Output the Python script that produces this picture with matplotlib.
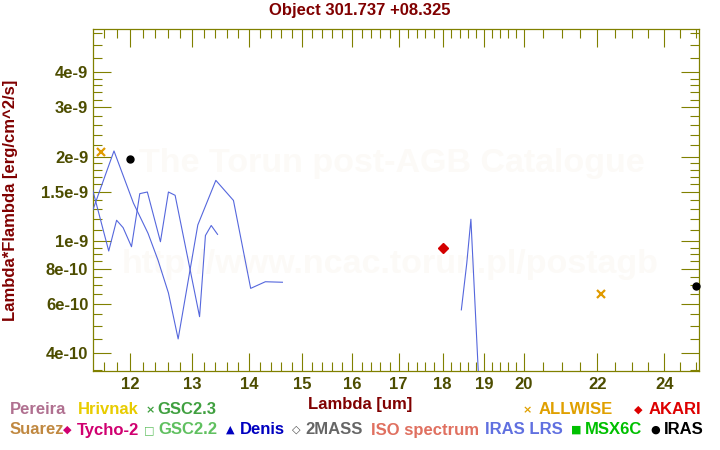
import matplotlib
matplotlib.use("Agg")
import matplotlib.pyplot as plt
import numpy as np
from matplotlib.ticker import FixedLocator, NullFormatter

# IRAS LRS spectrum pieces (um, erg/cm^2/s)
lrs_a_wl = [11.43, 11.75, 12.05, 12.28, 12.44, 12.61, 12.77, 13.10, 13.41, 13.72, 14.03, 14.30, 14.62]
lrs_a_fl = [1.29e-9, 2.10e-9, 1.37e-9, 1.07e-9, 8.59e-10, 6.56e-10, 4.50e-10, 1.145e-9, 1.65e-9,
            1.40e-9, 6.81e-10, 7.19e-10, 7.16e-10]
lrs_b_wl = [11.43, 11.67, 11.79, 11.89, 12.02, 12.15, 12.27, 12.48, 12.61, 12.72, 13.13, 13.23, 13.33, 13.44]
lrs_b_fl = [1.525e-9, 9.25e-10, 1.19e-9, 1.12e-9, 9.58e-10, 1.48e-9, 1.50e-9, 9.98e-10, 1.50e-9,
            1.46e-9, 5.40e-10, 1.05e-9, 1.14e-9, 1.06e-9]
lrs_c_wl = [18.44, 18.57, 18.67, 18.85, 18.90]
lrs_c_fl = [5.71e-10, 8.36e-10, 1.20e-9, 3.44e-10, 3.0e-10]

allwise_wl = [11.56, 22.09]
allwise_fl = [2.09e-9, 6.49e-10]
iras_wl = [12.0, 25.0]
iras_fl = [1.97e-9, 6.93e-10]
akari_wl = [18.0]
akari_fl = [9.45e-10]

x_major = [12, 13, 14, 15, 16, 17, 18, 19, 20, 22, 24]
y_major = [4e-9, 3e-9, 2e-9, 1.5e-9, 1e-9, 8e-10, 6e-10, 4e-10]
y_major_labels = ["4e-9", "3e-9", "2e-9", "1.5e-9", "1e-9", "8e-10", "6e-10", "4e-10"]
y_minor = [5.5e-9, 5.0e-9, 4.5e-9, 3.8e-9, 3.6e-9, 3.4e-9, 3.2e-9, 2.8e-9, 2.6e-9, 2.4e-9, 2.2e-9,
           1.9e-9, 1.8e-9, 1.7e-9, 1.6e-9, 1.4e-9, 1.3e-9, 1.2e-9, 1.1e-9, 9.5e-10, 9.0e-10, 8.5e-10,
           7.5e-10, 7.0e-10, 6.5e-10, 5.5e-10, 5.0e-10, 4.5e-10, 3.5e-10]

legend_row1 = [
    (10, "Pereira", "#b07090"),
    (78, "Hrivnak", "#e8cc00"),
    (146, "\u00d7", "#40a040"), (157, "GSC2.3", "#40a040"),
    (523, "\u00d7", "#e0a000"), (539, "ALLWISE", "#e0a000"),
    (634, "\u25c6", "#dd0000"), (649, "AKARI", "#dd0000"),
]
legend_row2 = [
    (10, "Suarez", "#c08840"),
    (63, "\u25c6", "#d00070"), (77, "Tycho-2", "#d00070"),
    (144, "\u25a1", "#60c060"), (158, "GSC2.2", "#60c060"),
    (226, "\u25b2", "#0000c0"), (240, "Denis", "#0000c0"),
    (292, "\u25c7", "#505050"), (305, "2MASS", "#666666"),
    (371, "ISO spectrum", "#e07060"),
    (485, "IRAS LRS", "#6070e0"),
    (571, "\u25a0", "#00c000"), (585, "MSX6C", "#00c000"),
    (650, "\u25cf", "#000000"), (664, "IRAS", "#000000"),
]

OLIVE = "#808000"
TICKTXT = "#4d4d00"
DARKRED = "#800000"
LINEC = "#5567dd"

plt.rcParams["font.family"] = ["Liberation Sans", "DejaVu Sans"]
plt.rcParams["font.weight"] = "bold"
plt.rcParams["font.size"] = 12

fig = plt.figure(figsize=(7.2, 4.5), dpi=100)
ax = fig.add_axes([92.7 / 720, 1 - 371 / 450, (699 - 92.7) / 720, (371 - 29.3) / 450])

ax.set_xscale("log")
ax.set_yscale("log")
ax.set_xlim(11.43, 25.1)
ax.set_ylim(3.46e-10, 5.69e-9)

for wl, fl in ((lrs_a_wl, lrs_a_fl), (lrs_b_wl, lrs_b_fl), (lrs_c_wl, lrs_c_fl)):
    ax.plot(wl, fl, color=LINEC, lw=0.8, zorder=3)

ax.plot(allwise_wl, allwise_fl, "x", color="#e09a00", ms=5.5, mew=1.6, zorder=4)
ax.plot(iras_wl, iras_fl, "o", color="black", ms=5, zorder=4, clip_on=False)
ax.plot(akari_wl, akari_fl, "D", color="#d40000", ms=5, zorder=4)

# faint watermark
ax.text(0.494, 0.606, "The Torun post-AGB Catalogue", transform=ax.transAxes, ha="center",
        va="center", fontsize=24.5, color="#fcfaf7", zorder=1)
ax.text(0.49, 0.313, "http://www.ncac.torun.pl/postagb", transform=ax.transAxes, ha="center",
        va="center", fontsize=24.5, color="#fcfaf7", zorder=1)

ax.xaxis.set_major_locator(FixedLocator(x_major))
ax.set_xticklabels([str(v) for v in x_major])
x_minor = [v for v in np.round(np.arange(11.6, 20.0, 0.2), 1) if abs(v - round(v)) > 1e-6]
x_minor += [20.5, 21, 21.5, 22.5, 23, 23.5, 24.5, 25]
ax.xaxis.set_minor_locator(FixedLocator(x_minor))
ax.xaxis.set_minor_formatter(NullFormatter())

ax.yaxis.set_major_locator(FixedLocator(y_major))
ax.set_yticklabels(y_major_labels)
ax.yaxis.set_minor_locator(FixedLocator(y_minor))
ax.yaxis.set_minor_formatter(NullFormatter())

ax.tick_params(which="both", direction="in", top=True, right=True, color=OLIVE,
               labelcolor=TICKTXT, width=0.8)
ax.tick_params(which="major", length=13)
ax.tick_params(which="minor", length=6.7)
ax.tick_params(axis="x", pad=4)
ax.tick_params(axis="y", pad=3.2)
for lab in ax.get_xticklabels() + ax.get_yticklabels():
    lab.set_fontweight("bold")
for sp in ax.spines.values():
    sp.set_color(OLIVE)
    sp.set_linewidth(0.9)

fig.text(0.5, 1 - 11 / 450, "Object 301.737 +08.325", ha="center", va="center",
         color=DARKRED, fontsize=12)
fig.text(10.5 / 720, 1 - 200 / 450, "Lambda*Flambda [erg/cm^2/s]", rotation=90,
         ha="center", va="center", color=DARKRED, fontsize=12)
fig.text(0.5, 1 - 405 / 450, "Lambda [um]", ha="center", va="center", color=DARKRED, fontsize=12)

for row, ypix in ((legend_row1, 410), (legend_row2, 430)):
    for xpix, txt, col in row:
        small = len(txt) == 1
        fig.text(xpix / 720, 1 - ypix / 450, txt, ha="left", va="center", color=col,
                 fontsize=8 if small else 12,
                 family=["DejaVu Sans"] if small else ["Liberation Sans", "DejaVu Sans"])

fig.savefig("out.png", dpi=100)
